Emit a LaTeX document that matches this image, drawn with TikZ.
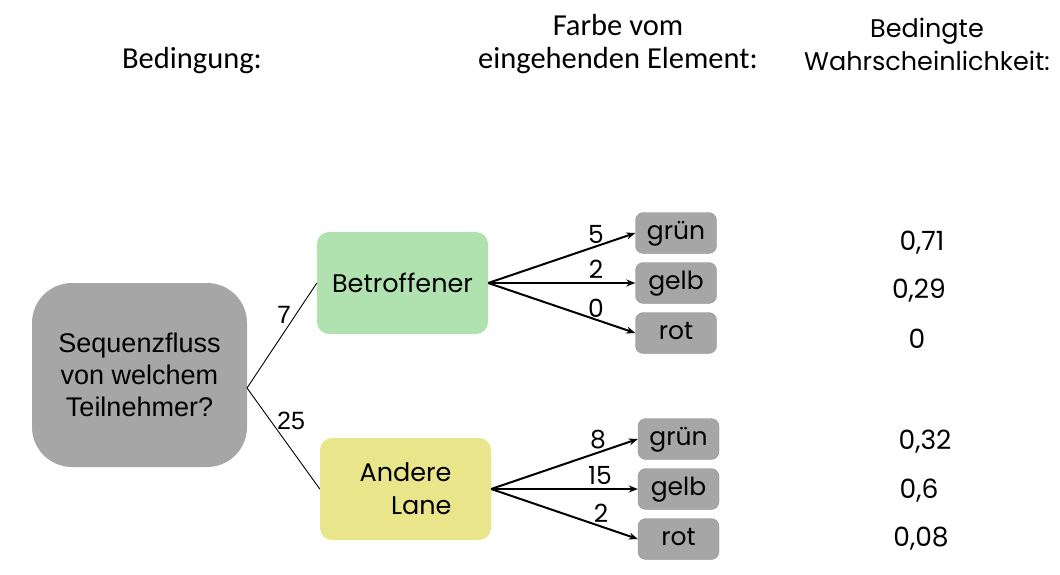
\documentclass[tikz,border=0pt]{standalone}
\usepackage{fontspec}
\setmainfont{Poppins}
\newfontfamily\carl{Carlito}
\newfontfamily\arialf{Liberation Sans}
\usetikzlibrary{arrows.meta}
\definecolor{boxgray}{HTML}{A6A6A6}
\definecolor{boxgreen}{HTML}{B0E2B0}
\definecolor{boxyellow}{HTML}{E9E58A}
\begin{document}
\begin{tikzpicture}[x=1pt,y=-1pt,
  bigbox/.style={fill=boxgray,rounded corners=40pt,minimum width=215pt,minimum height=184pt,inner sep=0pt,align=center,font=\arialf\fontsize{27}{32}\selectfont},
  midbox/.style={rounded corners=12pt,minimum width=171pt,minimum height=102pt,inner sep=0pt,font=\fontsize{25.5}{33}\selectfont},
  colbox/.style={fill=boxgray,draw=boxgray!85!black,line width=0.4pt,rounded corners=8pt,minimum width=81pt,minimum height=41pt,inner sep=0pt,text height=15pt,text depth=3pt,font=\fontsize{25}{28}\selectfont},
  hdr/.style={align=center,font=\carl\fontsize{30.5}{33}\selectfont},
  hdrb/.style={align=center,font=\fontsize{25.5}{33}\selectfont},
  num/.style={font=\fontsize{25}{28}\selectfont,inner sep=0pt},
  pnum/.style={font=\fontsize{26.5}{28}\selectfont,inner sep=0pt},
  anum/.style={font=\arialf\fontsize{25}{28}\selectfont,inner sep=0pt},
  arr/.style={-{Stealth[length=9pt,width=7pt]},line width=2pt},
  thin/.style={line width=0.9pt}]
\useasboundingbox (0,0) rectangle (1060,574);
% headers
\node[hdr] (h1) at (192,61) {Bedingung:};
\node[hdr] (h2) at (618,44) {Farbe vom\\eingehenden Element:};
\node[hdrb] (h3) at (927,44) {Bedingte\\Wahrscheinlichkeit:};
% main boxes
\node[bigbox] (q) at (139.5,375) {Sequenzfluss\\von welchem\\Teilnehmer?};
\node[midbox,fill=boxgreen] (b) at (402.5,283) {Betroffener};
\node[midbox,fill=boxyellow,align=right] (a) at (405.5,489) {Andere\\Lane};
% colour boxes
\node[colbox] (g1) at (676,233) {grün};
\node[colbox] (y1) at (676,283) {gelb};
\node[colbox] (r1) at (676,333) {rot};
\node[colbox] (g2) at (678.5,439) {grün};
\node[colbox] (y2) at (678.5,489) {gelb};
\node[colbox] (r2) at (678.5,539) {rot};
% connectors
\coordinate (qr) at (247,388);
\draw[thin] (qr) -- (b.west);
\draw[thin] (qr) -- (a.west);
\node[anum] (l7) at (284,315) {7};
\node[anum] (l25) at (291,421) {25};
\draw[arr] (b.east) -- (g1.west);
\draw[arr] (b.east) -- (y1.west);
\draw[arr] (b.east) -- (r1.west);
\draw[arr] (a.east) -- (g2.west);
\draw[arr] (a.east) -- (y2.west);
\draw[arr] (a.east) -- (r2.west);
\node[num] (n5) at (596,234) {5};
\node[num] (n2) at (596,269) {2};
\node[num] (n0) at (596,308) {0};
\node[num] (n8) at (598,440) {8};
\node[num] (n15) at (600,475) {15};
\node[num] (n2b) at (601,513) {2};
% probabilities
\node[pnum] (p1) at (922,243) {0,71};
\node[pnum] (p2) at (919,291) {0,29};
\node[pnum] (p3) at (917,339) {0};
\node[pnum] (p4) at (925,442) {0,32};
\node[pnum] (p5) at (919,491) {0,6};
\node[pnum] (p6) at (921,539) {0,08};
\end{tikzpicture}
\end{document}
